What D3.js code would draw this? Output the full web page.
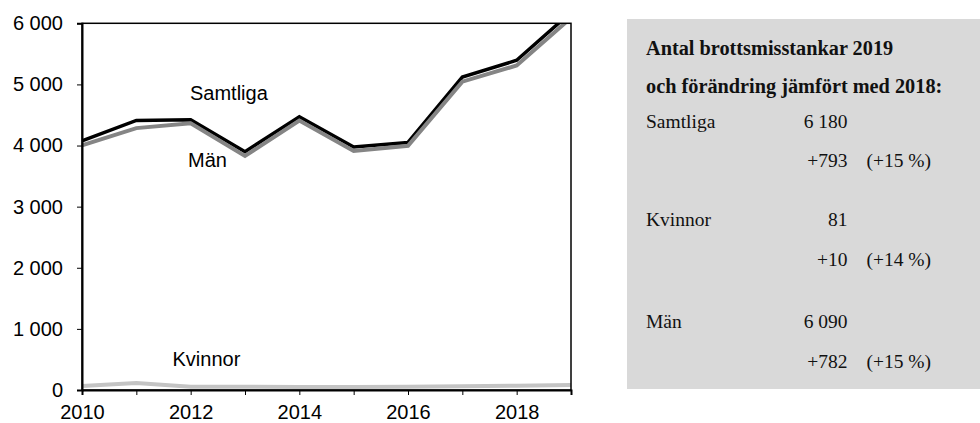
<!DOCTYPE html>
<html>
<head>
<meta charset="utf-8">
<script src="https://cdn.jsdelivr.net/npm/d3@7"></script>
<style>
  html, body { margin: 0; padding: 0; background: #fff; }
  svg { display: block; }
  .axis text { font-family: "Liberation Sans", Arial, sans-serif; font-size: 20px; fill: #000; }
  .axis line, .axis path { stroke: #000; }
  .series-label { font-family: "Liberation Sans", Arial, sans-serif; font-size: 20px; fill: #000; }
  .box text { font-family: "Liberation Serif", "Times New Roman", serif; font-size: 19.5px; fill: #111; }
  .box .title { font-weight: bold; font-size: 20.3px; }
</style>
</head>
<body>
<svg id="chart" width="980" height="423"></svg>
<script>
// Data
const years = [2010, 2011, 2012, 2013, 2014, 2015, 2016, 2017, 2018, 2019];
const samtliga = [4075, 4410, 4420, 3900, 4470, 3975, 4050, 5120, 5395, 6180];
const man = [4005, 4285, 4365, 3830, 4410, 3910, 3995, 5045, 5310, 6090];
const kvinnor = [65, 115, 55, 55, 50, 50, 55, 60, 71, 81];
const yTicks = [0, 1000, 2000, 3000, 4000, 5000, 6000];

const boxTitle = ['Antal brottsmisstankar 2019', 'och förändring jämfört med 2018:'];
const boxGroups = ['Samtliga', 'Kvinnor', 'Män'];
const boxValues = [6180, 81, 6090];
const boxChanges = [793, 10, 782];
const boxPercents = [15, 14, 15];

const locale = d3.formatLocale({ decimal: ',', thousands: ' ', grouping: [3], currency: ['', ''] });
const fmt = locale.format(',');

const svg = d3.select('#chart');
const plot = { left: 82, right: 571, top: 23.3, bottom: 390 };

const x = d3.scaleLinear().domain([2010, 2019]).range([plot.left, plot.right]);
const y = d3.scaleLinear().domain([0, 6000]).range([plot.bottom, plot.top]);

// clip for lines
svg.append('defs').append('clipPath').attr('id', 'clip')
  .append('rect')
  .attr('x', plot.left).attr('y', plot.top)
  .attr('width', plot.right - plot.left).attr('height', plot.bottom - plot.top);

const line = d3.line().x((d, i) => x(years[i])).y(d => y(d));

const lines = svg.append('g').attr('clip-path', 'url(#clip)');
lines.append('path').datum(kvinnor)
  .attr('d', line).attr('fill', 'none').attr('stroke', '#c4c4c4').attr('stroke-width', 4);
lines.append('path').datum(samtliga)
  .attr('d', line).attr('fill', 'none').attr('stroke', '#000').attr('stroke-width', 3.5);
lines.append('path').datum(man)
  .attr('d', line).attr('fill', 'none').attr('stroke', '#858585').attr('stroke-width', 4);

// frame
svg.append('rect')
  .attr('x', plot.left).attr('y', plot.top)
  .attr('width', plot.right - plot.left).attr('height', plot.bottom - plot.top)
  .attr('fill', 'none').attr('stroke', '#000').attr('stroke-width', 1.5);

// axes
const yAxis = svg.append('g').attr('class', 'axis')
  .attr('transform', `translate(${plot.left},0)`)
  .call(d3.axisLeft(y).tickValues(yTicks).tickFormat(fmt).tickSize(5).tickPadding(14));
yAxis.select('.domain').attr('stroke-width', 2);

const xAxis = svg.append('g').attr('class', 'axis')
  .attr('transform', `translate(0,${plot.bottom})`)
  .call(d3.axisBottom(x).tickValues(years).tickFormat(d => d % 2 === 0 ? d : '').tickSize(5).tickPadding(10));
xAxis.select('.domain').attr('stroke-width', 2);

// series labels
svg.append('text').attr('class', 'series-label').attr('x', 190).attr('y', 100).text('Samtliga');
svg.append('text').attr('class', 'series-label').attr('x', 188).attr('y', 167).text('Män');
svg.append('text').attr('class', 'series-label').attr('x', 172.5).attr('y', 366).text('Kvinnor');

// summary box
const box = svg.append('g').attr('class', 'box');
box.append('rect').attr('x', 627).attr('y', 19).attr('width', 353).attr('height', 370).attr('fill', '#d9d9d9');

box.selectAll('text.title').data(boxTitle).join('text')
  .attr('class', 'title')
  .attr('x', 646).attr('y', (d, i) => 55 + i * 37.7)
  .text(d => d);

const rowY = [127.5, 226, 328];
const gap = [39.5, 39.5, 40];
boxGroups.forEach((g, i) => {
  box.append('text').attr('x', 646).attr('y', rowY[i]).text(g);
  box.append('text').attr('x', 847.5).attr('y', rowY[i]).attr('text-anchor', 'end').text(fmt(boxValues[i]));
  box.append('text').attr('x', 847.5).attr('y', rowY[i] + gap[i]).attr('text-anchor', 'end').text('+' + fmt(boxChanges[i]));
  box.append('text').attr('x', 866.5).attr('y', rowY[i] + gap[i]).text('(+' + boxPercents[i] + ' %)');
});
</script>
</body>
</html>
